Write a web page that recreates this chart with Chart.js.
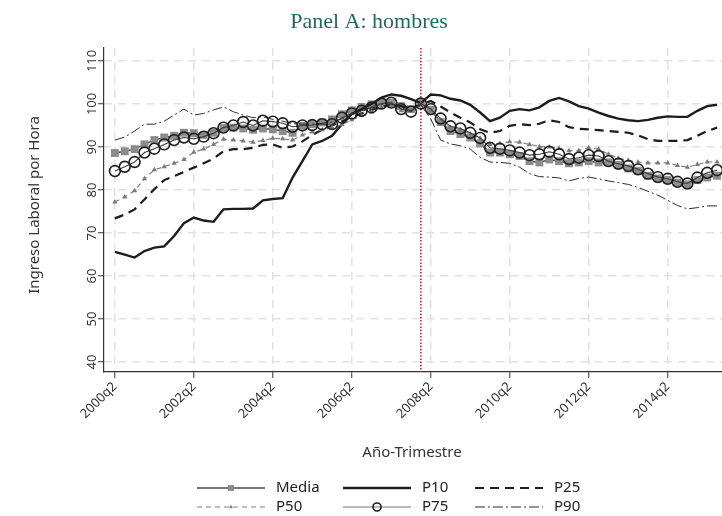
<!DOCTYPE html>
<html lang="es">
<head>
  <meta charset="UTF-8" />
  <title>Panel A: hombres</title>
  <script src="https://cdn.jsdelivr.net/npm/chart.js"></script>
  <style>
    html, body { margin: 0; padding: 0; background: #fff; }
    #wrap { width: 722px; height: 516px; position: relative; }
  </style>
</head>
<body>
  <div id="wrap"><canvas id="ingresoChart"></canvas></div>

  <script>
    // x = quarter index, 0 = 2000q2 ... 61 = 2015q3
    const tickPos = [0, 8, 16, 24, 32, 40, 48, 56];
    const tickLabels = ['2000q2', '2002q2', '2004q2', '2006q2', '2008q2', '2010q2', '2012q2', '2014q2'];
    const yTicks = [40, 50, 60, 70, 80, 90, 100, 110];
    const crisisQ = 31; // 2008q1, red dotted line

    const media = [88.6, 89.0, 89.5, 90.6, 91.6, 92.2, 92.6, 93.3, 93.2, 92.8,
                   93.3, 94.4, 94.5, 94.3, 94.0, 94.3, 94.1, 93.7, 93.3, 94.9,
                   95.3, 95.7, 96.4, 97.6, 98.5, 99.3, 99.9, 100.3, 100.3, 99.5,
                   98.8, 100.2, 98.6, 95.8, 93.7, 93.0, 92.2, 90.8, 88.7, 88.7,
                   88.3, 87.9, 86.7, 86.4, 87.1, 86.7, 86.2, 86.4, 86.7, 86.4,
                   86.4, 85.8, 85.0, 84.4, 83.3, 82.7, 82.3, 81.7, 81.3, 82.3,
                   82.9, 83.3];
    const p10 = [65.6, 65.0, 64.3, 65.8, 66.6, 66.9, 69.3, 72.3, 73.6, 72.9,
                 72.6, 75.5, 75.6, 75.6, 75.7, 77.6, 77.9, 78.1, 82.9, 86.7,
                 90.6, 91.4, 92.6, 95.3, 97.7, 98.8, 100.0, 101.5, 102.2, 101.9,
                 101.1, 100.2, 102.2, 102.0, 101.2, 100.8, 99.8, 98.0, 96.0, 96.8,
                 98.4, 98.8, 98.5, 99.2, 100.7, 101.4, 100.6, 99.5, 98.9, 98.0,
                 97.2, 96.6, 96.2, 96.0, 96.3, 96.8, 97.1, 97.0, 97.0, 98.4,
                 99.5, 99.8];
    const p25 = [73.4, 74.3, 75.5, 77.8, 80.2, 82.3, 83.2, 84.2, 85.2, 86.2,
                 87.3, 89.0, 89.5, 89.5, 89.8, 90.5, 90.6, 89.8, 90.1, 91.3,
                 92.8, 94.0, 95.0, 96.0, 97.0, 97.8, 98.6, 99.3, 99.8, 99.5,
                 99.0, 99.8, 100.7, 99.4, 98.0, 96.8, 95.7, 94.1, 93.3, 93.7,
                 94.9, 95.3, 95.1, 95.4, 96.2, 95.8, 94.6, 94.2, 94.1, 93.9,
                 93.7, 93.5, 93.3, 92.7, 91.8, 91.4, 91.4, 91.4, 91.6, 92.6,
                 93.7, 94.5];
    const p50 = [77.2, 78.4, 79.8, 82.6, 84.7, 85.4, 86.2, 87.1, 88.8, 89.5,
                 90.6, 91.8, 91.6, 91.4, 91.1, 91.5, 92.0, 91.9, 91.6, 92.8,
                 93.5, 94.0, 94.5, 95.2, 96.3, 97.3, 98.1, 99.1, 99.5, 98.4,
                 98.4, 99.9, 98.5, 96.0, 94.5, 94.0, 93.0, 92.0, 90.5, 90.8,
                 91.2, 91.1, 90.6, 90.1, 90.0, 89.7, 89.1, 89.2, 89.8, 89.5,
                 88.3, 87.4, 86.9, 86.5, 86.3, 86.3, 86.3, 85.7, 85.3, 85.9,
                 86.5, 86.5];
    const p75 = [84.4, 85.4, 86.5, 88.7, 89.6, 90.6, 91.6, 92.2, 91.9, 92.4,
                 93.2, 94.5, 95.0, 95.8, 95.0, 96.1, 95.9, 95.5, 94.7, 95.0,
                 95.1, 95.3, 95.3, 96.8, 97.8, 98.4, 99.2, 100.1, 100.3, 98.8,
                 98.2, 100.1, 98.8, 96.6, 94.8, 94.3, 93.3, 92.1, 89.8, 89.6,
                 89.2, 88.7, 88.1, 88.3, 88.9, 88.3, 87.2, 87.5, 88.1, 87.9,
                 86.7, 86.1, 85.6, 84.8, 83.8, 83.0, 82.6, 81.9, 81.5, 82.9,
                 84.0, 84.6];
    const p90 = [91.6, 92.3, 93.7, 95.3, 95.3, 96.0, 97.4, 98.8, 97.4, 97.8,
                 98.6, 99.3, 98.2, 97.4, 96.8, 97.0, 96.4, 96.0, 95.4, 95.3,
                 95.3, 95.5, 95.8, 96.5, 97.5, 98.3, 99.0, 99.8, 100.0, 99.0,
                 98.5, 99.8, 96.5, 91.6, 90.7, 90.3, 89.5, 87.6, 86.5, 86.4,
                 86.2, 85.3, 83.8, 83.1, 83.0, 82.8, 82.1, 82.7, 83.0, 82.6,
                 82.1, 81.7, 81.3, 80.6, 79.7, 78.8, 77.6, 76.4, 75.6, 75.9,
                 76.3, 76.3];

    const toPoints = arr => arr.map((v, i) => ({ x: i, y: v }));
    const sans = '"Noto Sans", "DejaVu Sans", sans-serif';

    function drawMarker(ctx, ds, x, y, scale) {
      const r = (ds.pointRadius || 0) * scale;
      if (!r) return;
      ctx.save();
      ctx.setLineDash([]);
      ctx.fillStyle = ds.pointBackgroundColor;
      ctx.strokeStyle = ds.pointBorderColor;
      ctx.lineWidth = ds.pointBorderWidth;
      ctx.beginPath();
      if (ds.pointStyle === 'rect') {
        const s = r * Math.SQRT1_2;
        ctx.rect(x - s, y - s, 2 * s, 2 * s);
      } else if (ds.pointStyle === 'triangle') {
        ctx.moveTo(x, y - r);
        ctx.lineTo(x + r * 0.87, y + r * 0.5);
        ctx.lineTo(x - r * 0.87, y + r * 0.5);
        ctx.closePath();
      } else {
        ctx.arc(x, y, r, 0, Math.PI * 2);
      }
      ctx.fill();
      if (ds.pointBorderWidth) ctx.stroke();
      ctx.restore();
    }

    const decor = {
      id: 'decor',
      beforeDatasetsDraw(chart) {
        const { ctx, chartArea, scales } = chart;
        const x = scales.x.getPixelForValue(crisisQ);
        ctx.save();
        ctx.strokeStyle = '#d0202e';
        ctx.lineWidth = 1.6;
        ctx.setLineDash([1.6, 1.6]);
        ctx.beginPath();
        ctx.moveTo(x, chartArea.top);
        ctx.lineTo(x, chartArea.bottom);
        ctx.stroke();
        ctx.restore();
      },
      afterDraw(chart) {
        const { ctx, chartArea, scales } = chart;
        ctx.save();

        // title
        ctx.fillStyle = '#1d6b60';
        ctx.font = '22px "Liberation Serif", serif';
        ctx.textAlign = 'center';
        ctx.textBaseline = 'middle';
        ctx.fillText('Panel A: hombres', 369, 22);

        // y tick labels, rotated
        ctx.fillStyle = '#333';
        ctx.font = '13px ' + sans;
        yTicks.forEach(v => {
          ctx.save();
          ctx.translate(chartArea.left - 12, scales.y.getPixelForValue(v));
          ctx.rotate(-Math.PI / 2);
          ctx.fillText(String(v), 0, 0);
          ctx.restore();
        });

        // axis titles
        ctx.font = '15px ' + sans;
        ctx.save();
        ctx.translate(35, 205);
        ctx.rotate(-Math.PI / 2);
        ctx.fillText('Ingreso Laboral por Hora', 0, 0);
        ctx.restore();
        ctx.fillText('Año-Trimestre', 412, 453);

        // legend
        const cols = [197, 343, 475];
        const rows = [488, 507];
        const len = 68;
        chart.data.datasets.forEach((ds, i) => {
          const x0 = cols[i % 3];
          const y0 = rows[Math.floor(i / 3)];
          ctx.save();
          ctx.strokeStyle = ds.legendLine || ds.borderColor;
          ctx.lineWidth = ds.borderWidth;
          ctx.setLineDash(ds.borderDash || []);
          ctx.beginPath();
          ctx.moveTo(x0, y0);
          ctx.lineTo(x0 + len, y0);
          ctx.stroke();
          ctx.restore();
          drawMarker(ctx, ds, x0 + len / 2, y0, 0.75);
          ctx.fillStyle = '#222';
          ctx.font = '15px ' + sans;
          ctx.textAlign = 'left';
          ctx.fillText(ds.label, x0 + len + 11, y0);
        });

        ctx.restore();
      }
    };

    new Chart(document.getElementById('ingresoChart'), {
      type: 'line',
      data: {
        datasets: [
          {
            label: 'Media', data: toPoints(media), order: 6,
            borderColor: '#4a4a4a', borderWidth: 1.5,
            pointStyle: 'rect', pointRadius: 5.6,
            pointBackgroundColor: '#8c8c8c', pointBorderColor: '#8c8c8c', pointBorderWidth: 0
          },
          {
            label: 'P10', data: toPoints(p10), order: 5,
            borderColor: '#1c1c1c', borderWidth: 2.4, pointRadius: 0
          },
          {
            label: 'P25', data: toPoints(p25), order: 4,
            borderColor: '#1c1c1c', borderWidth: 2.2, borderDash: [9, 6], pointRadius: 0
          },
          {
            label: 'P50', data: toPoints(p50), order: 3,
            borderColor: '#808080', borderWidth: 1.2, borderDash: [5, 4],
            pointStyle: 'triangle', pointRadius: 3,
            pointBackgroundColor: '#7a7a7a', pointBorderColor: '#7a7a7a', pointBorderWidth: 0
          },
          {
            label: 'P75', data: toPoints(p75), order: 2,
            borderColor: '#3a3a3a', borderWidth: 1.1, legendLine: '#777',
            pointStyle: 'circle', pointRadius: 5.4,
            pointBackgroundColor: 'rgba(255,255,255,0)', pointBorderColor: '#1e1e1e', pointBorderWidth: 1.6
          },
          {
            label: 'P90', data: toPoints(p90), order: 1,
            borderColor: '#2a2a2a', borderWidth: 1, borderDash: [10, 3, 2, 3], pointRadius: 0
          }
        ]
      },
      options: {
        responsive: true,
        maintainAspectRatio: false,
        animation: false,
        layout: { autoPadding: false, padding: { top: 48, left: 0, right: 0, bottom: 0 } },
        plugins: {
          legend: { display: false },
          tooltip: { enabled: false },
          title: { display: false }
        },
        elements: { line: { tension: 0, fill: false } },
        scales: {
          x: {
            type: 'linear',
            min: -1.1,
            max: 61.5,
            afterBuildTicks: s => { s.ticks = tickPos.map(v => ({ value: v })); },
            afterFit: s => { s.height = 144; s.paddingLeft = 0; s.paddingRight = 0; },
            ticks: {
              autoSkip: false,
              minRotation: 45,
              maxRotation: 45,
              padding: 1,
              color: '#333',
              font: { family: sans, size: 13 },
              callback: v => tickLabels[tickPos.indexOf(v)]
            },
            grid: { color: '#e2e2e2', lineWidth: 1.5, tickColor: '#333', tickLength: 6, tickWidth: 1 },
            border: { color: '#333', width: 1.2, dash: [8, 6] }
          },
          y: {
            min: 37.7,
            max: 113,
            afterBuildTicks: s => { s.ticks = yTicks.map(v => ({ value: v })); },
            afterFit: s => { s.width = 104; s.paddingTop = 0; s.paddingBottom = 0; },
            ticks: { display: false },
            grid: { color: '#e2e2e2', lineWidth: 1.5, tickColor: '#333', tickLength: 6, tickWidth: 1 },
            border: { color: '#333', width: 1.2, dash: [8, 6] }
          }
        }
      },
      plugins: [decor]
    });
  </script>
</body>
</html>
